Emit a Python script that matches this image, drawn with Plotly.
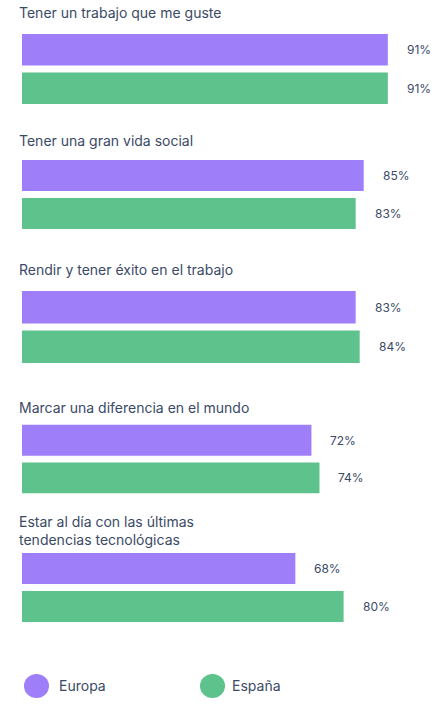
import plotly.graph_objects as go
from plotly.subplots import make_subplots

# categories (one per subplot row) and series values (%)
categories = [
    "Tener un trabajo que me guste",
    "Tener una gran vida social",
    "Rendir y tener éxito en el trabajo",
    "Marcar una diferencia en el mundo",
    "Estar al día con las últimas<br>tendencias tecnológicas",
]
series_names = ["Europa", "España"]
europa = [91, 85, 83, 72, 68]
espana = [91, 83, 84, 74, 80]

PURPLE = "#9e7ff9"
GREEN = "#5dc28b"
TEXT = "#3a4a66"
FONT = "Inter"
W, H = 442, 712

# pixel layout of each group (bar block top/bottom, title centre)
block_px = [(30.5, 107.5), (156.5, 232.5), (287.5, 366.5), (421.5, 496.5), (549.5, 625.5)]
title_px = [13, 140, 269, 407, 530]

def px_x(px):
    return px / W

def px_y(px):
    return 1 - px / H

fig = make_subplots(rows=5, cols=1, shared_xaxes=True)

for i, cat in enumerate(categories):
    r = i + 1
    fig.add_trace(go.Bar(
        x=[europa[i], espana[i]], y=series_names, orientation="h",
        marker=dict(color=[PURPLE, GREEN], line=dict(width=0)),
        showlegend=False, hoverinfo="skip"), row=r, col=1)
    top, bot = block_px[i]
    fig.update_yaxes(domain=[px_y(bot), px_y(top)], autorange="reversed",
                     showticklabels=False, showgrid=False, zeroline=False,
                     row=r, col=1)
    # value labels
    ax = "x" if r == 1 else "x%d" % r
    ay = "y" if r == 1 else "y%d" % r
    for name, v in zip(series_names, [europa[i], espana[i]]):
        fig.add_annotation(x=v, y=name, xref=ax, yref=ay, text="%d%%" % v,
                           showarrow=False, xanchor="left", xshift=17,
                           font=dict(family=FONT, size=12, color=TEXT))
    # group title
    fig.add_annotation(x=px_x(17), y=px_y(title_px[i]), xref="paper", yref="paper",
                       text=cat, showarrow=False, xanchor="left", yanchor="middle",
                       align="left", font=dict(family=FONT, size=14, color=TEXT))

fig.update_xaxes(range=[0, 100], domain=[px_x(22), px_x(424)], visible=False,
                 showgrid=False, zeroline=False)

# legend drawn as circles + text
legend_items = [(24, 49, 57, "Europa", PURPLE), (200, 225, 230, "España", GREEN)]
for x0, x1, tx, name, col in legend_items:
    fig.add_shape(type="circle", xref="paper", yref="paper",
                  x0=px_x(x0), x1=px_x(x1), y0=px_y(698), y1=px_y(674),
                  fillcolor=col, line=dict(width=0))
    fig.add_annotation(x=px_x(tx), y=px_y(685), xref="paper", yref="paper", text=name,
                       showarrow=False, xanchor="left", yanchor="middle",
                       font=dict(family=FONT, size=14, color=TEXT))

fig.update_layout(width=W, height=H, margin=dict(l=0, r=0, t=0, b=0),
                  bargap=0.18, plot_bgcolor="white", paper_bgcolor="white",
                  font=dict(family=FONT, color=TEXT))

# drop the default 8px body margin so the figure fills the window
fig.write_html("out.html", config={"displayModeBar": False},
               post_script="document.body.style.margin='0';")
